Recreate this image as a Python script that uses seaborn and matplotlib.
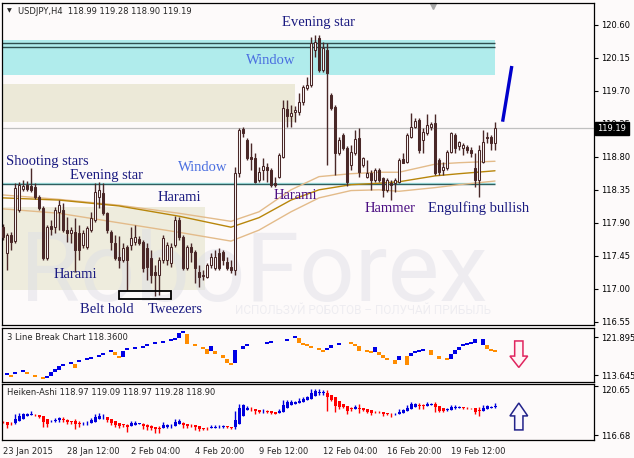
import numpy as np
import seaborn as sns
import matplotlib.pyplot as plt
import matplotlib.transforms as mtransforms
from matplotlib.patches import Rectangle, Polygon

sns.set_style('white')
plt.rcParams['font.family'] = ['DejaVu Sans']

BG = '#fdfafa'
CANDLE = '#4a2828'

# USDJPY H4 candles, bar 0 = 23 Jan 2015 00:00
opens = [117.84, 117.49, 117.73, 117.65, 118.07, 118.36, 118.42, 118.40, 118.39, 118.25,
         118.10, 117.42, 117.86, 117.84, 118.05, 118.07, 117.80, 117.76, 117.77, 117.76,
         117.60, 117.57, 117.80, 117.94, 118.25, 118.31, 118.03, 117.77, 117.62, 117.43,
         117.39, 117.57, 117.60, 117.64, 117.68, 117.64, 117.56, 117.42, 117.23, 117.19,
         117.39, 117.39, 117.35, 117.60, 117.94, 117.71, 117.28, 117.57, 117.50, 117.23,
         117.17, 117.16, 117.32, 117.28, 117.49, 117.50, 117.37, 117.30, 117.26, 118.58,
         119.18, 119.03, 118.80, 118.78, 118.48, 118.62, 118.66, 118.62, 118.44, 118.53,
         118.80, 119.45, 119.36, 119.41, 119.41, 119.55, 119.74, 119.78, 120.26, 120.42,
         119.99, 120.26, 119.64, 119.48, 118.85, 119.10, 118.92, 118.69, 118.85, 119.06,
         118.69, 118.53, 118.58, 118.48, 118.62, 118.51, 118.35, 118.44, 118.44, 118.46,
         118.77, 118.73, 119.07, 119.21, 119.30, 119.03, 119.13, 119.21, 119.26, 118.76,
         118.62, 118.65, 118.87, 119.10, 118.95, 118.92, 118.93, 118.89, 118.65, 118.48,
         118.73, 119.07, 119.07, 118.99]
closes = [117.71, 117.73, 117.64, 118.38, 118.42, 118.40, 118.36, 118.35, 118.25, 118.10,
          117.42, 117.84, 117.82, 118.07, 118.14, 117.80, 117.76, 117.80, 117.53, 117.53,
          117.76, 117.83, 117.97, 118.32, 118.35, 118.03, 117.80, 117.64, 117.42, 117.39,
          117.56, 117.39, 117.69, 117.71, 117.62, 117.28, 117.30, 117.19, 117.19, 117.39,
          117.69, 117.60, 117.57, 117.94, 117.71, 117.28, 117.57, 117.50, 117.28, 117.16,
          117.19, 117.32, 117.43, 117.43, 117.28, 117.39, 117.28, 117.26, 118.58, 119.17,
          119.13, 118.78, 118.77, 118.46, 118.59, 118.68, 118.62, 118.42, 118.42, 118.83,
          119.47, 119.36, 119.40, 119.44, 119.55, 119.75, 119.78, 120.35, 120.37, 119.99,
          120.29, 119.94, 119.47, 118.85, 119.03, 118.92, 118.46, 118.87, 119.04, 118.59,
          118.78, 118.58, 118.48, 118.62, 118.48, 118.35, 118.48, 118.42, 118.48, 118.76,
          118.72, 119.10, 119.21, 119.29, 118.89, 119.14, 119.23, 119.25, 118.58, 118.59,
          118.66, 118.87, 119.13, 118.92, 119.00, 118.96, 118.89, 118.85, 118.48, 118.89,
          119.00, 119.06, 118.99, 119.19]
highs = [117.88, 117.76, 117.77, 118.44, 118.46, 118.48, 118.47, 118.65, 118.44, 118.28,
         118.13, 117.87, 117.94, 118.12, 118.21, 118.17, 117.98, 117.84, 117.97, 117.87,
         117.80, 117.86, 118.05, 118.44, 118.46, 118.44, 118.05, 117.80, 117.73, 117.72,
         117.62, 117.60, 117.84, 117.87, 117.72, 117.67, 117.62, 117.53, 117.32, 117.43,
         117.73, 117.64, 117.62, 117.99, 117.98, 117.73, 117.60, 117.62, 117.53, 117.32,
         117.26, 117.35, 117.49, 117.53, 117.56, 117.53, 117.43, 117.39, 118.66, 119.19,
         119.21, 119.06, 118.99, 118.85, 118.66, 118.78, 118.72, 118.65, 118.53, 118.85,
         119.58, 119.58, 119.51, 119.49, 119.67, 119.78, 119.89, 120.44, 120.46, 120.46,
         120.37, 120.35, 119.67, 119.51, 119.07, 119.13, 118.95, 118.96, 119.17, 119.19,
         118.80, 118.76, 118.62, 118.65, 118.65, 118.53, 118.51, 118.48, 118.51, 118.78,
         118.85, 119.13, 119.40, 119.33, 119.33, 119.19, 119.39, 119.28, 119.39, 118.78,
         118.73, 118.89, 119.14, 119.13, 119.02, 118.99, 118.96, 118.93, 118.85, 118.96,
         119.17, 119.14, 119.10, 119.28]
lows = [117.67, 117.26, 117.53, 117.62, 118.05, 118.33, 118.33, 118.32, 118.22, 118.07,
        117.39, 117.39, 117.73, 117.76, 117.80, 117.77, 117.64, 117.62, 117.23, 117.39,
        117.56, 117.54, 117.77, 117.91, 118.10, 118.01, 117.76, 117.53, 117.39, 117.28,
        117.37, 116.98, 117.53, 117.60, 117.60, 117.23, 117.12, 117.08, 116.90, 116.91,
        117.35, 117.32, 117.30, 117.57, 117.67, 117.26, 117.26, 117.37, 117.08, 117.02,
        117.12, 117.15, 117.28, 117.26, 117.26, 117.32, 117.26, 117.22, 117.19, 118.53,
        119.07, 118.76, 118.62, 118.44, 118.46, 118.48, 118.46, 118.39, 118.39, 118.51,
        118.79, 119.21, 119.21, 119.28, 119.37, 119.51, 119.71, 119.75, 120.16, 119.96,
        119.96, 118.69, 119.44, 118.55, 118.83, 118.89, 118.40, 118.62, 118.83, 118.53,
        118.66, 118.51, 118.35, 118.46, 118.46, 118.25, 118.32, 118.21, 118.32, 118.44,
        118.71, 118.72, 119.06, 119.19, 118.85, 118.85, 119.10, 119.17, 118.55, 118.55,
        118.55, 118.62, 118.85, 118.85, 118.89, 118.83, 118.85, 118.80, 118.39, 118.25,
        118.72, 118.99, 118.89, 118.90]

# moving averages, read at a few bars
ma_bars = [0, 14, 29, 44, 57, 64, 72, 79, 87, 94, 99, 108, 114, 123]
ma_upper = [118.28, 118.22, 118.14, 118.03, 117.92, 118.05, 118.35, 118.53, 118.57, 118.59,
            118.59, 118.70, 118.72, 118.74]
ma_mid = [118.24, 118.21, 118.13, 117.99, 117.84, 117.97, 118.21, 118.35, 118.42, 118.44,
          118.46, 118.54, 118.57, 118.61]
ma_lower = [118.09, 118.03, 117.90, 117.77, 117.65, 117.80, 118.05, 118.24, 118.34, 118.35,
            118.33, 118.38, 118.42, 118.47]

# 3 line break bricks: bar, top, bottom, direction
lb_bar = [1, 2, 3, 5, 6, 8, 10, 11, 12, 13, 14, 15, 17, 18, 19, 21, 22, 24, 25, 27,
          28, 29, 30, 31, 33, 35, 36, 38, 40, 42, 43, 44, 45, 46, 48, 50, 51, 52, 53, 55,
          56, 57, 58, 60, 61, 66, 67, 71, 73, 74, 75, 76, 77, 79, 80, 81, 82, 84, 87, 88,
          89, 91, 92, 93, 94, 95, 96, 98, 99, 101, 102, 103, 104, 105, 107, 109, 111, 112, 113, 114,
          115, 116, 117, 118, 120, 121, 122, 123]
lb_top = [114.08, 113.64, 114.30, 114.73, 114.30, 113.64, 113.21, 113.43, 114.30, 114.95,
          115.60, 116.03, 116.47, 116.03, 116.90, 117.34, 117.55, 117.99, 118.42, 119.07,
          118.64, 117.77, 118.86, 119.51, 119.72, 119.94, 120.38, 120.81, 121.03, 121.46,
          121.68, 122.76, 123.20, 122.55, 120.38, 119.72, 119.29, 119.94, 118.86, 117.99,
          117.12, 116.25, 119.07, 119.94, 120.38, 120.81, 121.03, 121.46, 122.11, 121.68,
          120.59, 120.38, 119.94, 119.51, 119.07, 119.51, 120.16, 120.59, 120.81, 120.38,
          119.94, 119.07, 118.86, 119.72, 118.64, 117.99, 117.34, 116.90, 117.77, 117.77,
          118.42, 118.86, 119.07, 119.29, 119.07, 117.77, 117.34, 118.20, 119.07, 119.72,
          120.38, 120.59, 120.81, 121.46, 121.46, 120.16, 119.29, 119.07]
lb_bottom = [113.64, 113.21, 113.86, 114.30, 113.86, 113.21, 112.78, 113.00, 113.43, 114.30,
             114.73, 115.60, 116.03, 115.17, 116.47, 116.90, 117.12, 117.55, 117.99, 118.64,
             117.99, 117.34, 117.55, 119.07, 119.29, 119.51, 119.94, 120.38, 120.59, 121.03,
             121.24, 121.68, 122.76, 120.38, 119.94, 119.29, 118.20, 118.86, 118.20, 117.34,
             116.25, 115.82, 116.25, 119.29, 119.94, 120.38, 120.59, 121.03, 121.68, 120.59,
             120.16, 119.94, 119.51, 119.07, 118.64, 119.07, 119.51, 120.16, 120.38, 119.94,
             118.86, 118.64, 118.42, 118.64, 117.99, 117.34, 116.90, 116.03, 116.90, 115.82,
             117.77, 118.42, 118.64, 118.86, 117.99, 117.12, 116.90, 117.12, 118.20, 119.07,
             119.94, 120.16, 120.38, 120.59, 120.16, 119.29, 118.86, 118.64]
lb_dir = 'UDUUDDDUUUUUUDUUUUUUDDUUUUUUUUUUUDDDDUDDDDUUUUUUUDDDDDDUUUDDDDDUDDDDUDUUUUDDDUUUUUUUUDDDD'

tick_bars = [0, 16, 32, 48, 64, 80, 96, 112]
tick_labels = ['23 Jan 2015', '28 Jan 12:00', '2 Feb 04:00', '4 Feb 20:00',
               '9 Feb 12:00', '12 Feb 04:00', '16 Feb 20:00', '19 Feb 12:00']
main_ticks = [120.60, 120.15, 119.70, 119.25, 118.80, 118.35, 117.90, 117.45, 117.00, 116.55]

o, c, h, l = (np.array(v) for v in (opens, closes, highs, lows))
n = len(o)
x = np.arange(n)

# Heiken-Ashi from the candles
ha_c = (o + h + l + c) / 4
ha_o = np.empty(n)
ha_o[0] = (o[0] + c[0]) / 2
for i in range(1, n):
    ha_o[i] = (ha_o[i - 1] + ha_c[i - 1]) / 2
ha_h = np.maximum(h, np.maximum(ha_o, ha_c))
ha_l = np.minimum(l, np.minimum(ha_o, ha_c))

fig = plt.figure(figsize=(6.34, 4.58), dpi=100, facecolor=BG)
W, H = 634, 458
def box(x0, y0, x1, y1):
    return [x0 / W, 1 - y1 / H, (x1 - x0) / W, (y1 - y0) / H]

ax = fig.add_axes(box(2, 3, 594, 325))
ax2 = fig.add_axes(box(2, 328, 594, 382))
ax3 = fig.add_axes(box(2, 384, 594, 440))
XL = (-0.25, 147.75)

for a in (ax, ax2, ax3):
    a.set_facecolor(BG)
    a.set_xlim(*XL)
    for s in a.spines.values():
        s.set_color('black')
        s.set_linewidth(0.9)
    a.yaxis.tick_right()
    a.tick_params(axis='y', direction='out', length=3, width=0.8, labelsize=6, pad=2,
                  colors='black')

# ---- main panel
ax.set_ylim(116.505, 120.90)
ax.set_xticks([])
ax.set_yticks(main_ticks)
ax.set_yticklabels([f'{v:.2f}' for v in main_ticks])

ax.add_patch(Rectangle((XL[0], 119.92), 123 - XL[0], 0.48, facecolor='#b0ecec',
                       edgecolor='none', zorder=0.5))
ax.add_patch(Rectangle((XL[0], 119.28), 73 - XL[0], 0.52, facecolor='#ece9d8',
                       edgecolor='none', zorder=0.5))
ax.add_patch(Rectangle((XL[0], 116.98), 50.5 - XL[0], 1.14, facecolor='#eeecdd',
                       edgecolor='none', zorder=0.5))
ax.hlines([120.36, 120.30], XL[0], 123, color='#2f4f4f', lw=1, zorder=1)
ax.hlines(118.445, XL[0], 123, color='#a8e8e8', lw=1, zorder=1)
ax.hlines(118.425, XL[0], 123, color='#2f5f5f', lw=1, zorder=1)
ax.axhline(119.19, color='#c0c0c0', lw=0.9, zorder=1)

ax.text(0.03, 0.075, 'RoboForex', transform=ax.transAxes, family='Roboto', fontsize=70,
        color='#dcdde6', alpha=0.45, zorder=0.6)
ax.text(0.393, 0.035, 'ИСПОЛЬЗУЙ РОБОТОВ – ПОЛУЧАЙ ПРИБЫЛЬ', transform=ax.transAxes,
        family='Roboto', fontsize=8.5, color='#dcdde6', alpha=0.45, zorder=0.6)

for col, vals in (('#e3bb8a', ma_upper), ('#b8860b', ma_mid), ('#e3bb8a', ma_lower)):
    sns.lineplot(x=ma_bars, y=vals, ax=ax, color=col, lw=1, zorder=1.5, legend=False)

up = c >= o
ax.vlines(x, l, h, color=CANDLE, lw=1, zorder=2)
ax.bar(x, np.maximum(np.abs(c - o), 0.004), bottom=np.minimum(o, c), width=0.55,
       color=np.where(up, BG, CANDLE), edgecolor=CANDLE, linewidth=0.75, zorder=3)

ax.plot([124.9, 127.2], [119.28, 120.04], color='#0000cc', lw=2.4,
        solid_capstyle='butt', zorder=4)
ax.add_patch(Rectangle((29, 116.86), 13, 0.11, fill=False, edgecolor='black', lw=1.3,
                       zorder=4))

navy, purple, wblue = '#1a1a80', '#4b0e82', '#4a6ee0'
notes = [('Evening star', 79, 120.64, navy), ('Window', 67, 120.12, wblue),
         ('Shooting stars', 11.1, 118.74, navy), ('Evening star', 26, 118.55, navy),
         ('Window', 50, 118.66, wblue), ('Harami', 44, 118.24, navy),
         ('Harami', 73, 118.27, purple), ('Harami', 18, 117.19, navy),
         ('Belt hold', 26, 116.71, navy), ('Tweezers', 43, 116.71, navy),
         ('Hammer', 96.75, 118.10, purple), ('Engulfing bullish', 119, 118.10, navy)]
for txt, bx, py, col in notes:
    ax.text(bx, py, txt, family='Liberation Serif', fontsize=10.5, color=col,
            ha='center', va='center', zorder=5)

ax.text(0.009, 0.975, '▼', transform=ax.transAxes, fontsize=4.5, va='center')
ax.text(0.027, 0.975, 'USDJPY,H4  118.99 119.28 118.90 119.19', transform=ax.transAxes,
        fontsize=6, va='center')
ax.plot([0.728], [0.992], marker='v', ms=5, color='#a8a8a8', transform=ax.transAxes,
        clip_on=False)
bt = mtransforms.blended_transform_factory(ax.transAxes, ax.transData)
ax.text(1.006, 119.19, '119.19', transform=bt, color='white', fontsize=6, va='center',
        ha='left', zorder=10,
        bbox=dict(facecolor='black', edgecolor='black', boxstyle='square,pad=0.25'))

# ---- 3 line break panel
ax2.set_ylim(112.13, 123.85)
ax2.set_xticks([])
ax2.set_yticks([113.645, 121.895])
ax2.set_yticklabels(['113.645', '121.895'])
lb_col = ['#0000e6' if d == 'U' else '#ff8c00' for d in lb_dir]
ax2.bar(lb_bar, np.array(lb_top) - np.array(lb_bottom), bottom=lb_bottom, width=0.85,
        color=lb_col, linewidth=0)
ax2.text(0.009, 0.83, '3 Line Break Chart 118.3600', transform=ax2.transAxes, fontsize=6,
         va='center')
ax2.add_patch(Polygon([(0.866, 0.76), (0.880, 0.76), (0.880, 0.48), (0.888, 0.48),
                       (0.873, 0.27), (0.858, 0.48), (0.866, 0.48)], closed=True,
                      transform=ax2.transAxes, facecolor='#fff4f6', edgecolor='#e0245e',
                      lw=1.1))

# ---- Heiken-Ashi panel
ax3.set_ylim(116.31, 120.84)
ax3.set_yticks([116.68, 120.65])
ax3.set_yticklabels(['116.68', '120.65'])
ax3.yaxis.get_major_ticks()[1].label2.set_verticalalignment('top')
ha_col = np.where(ha_c >= ha_o, '#0000dd', '#ff0000')
ax3.vlines(x, ha_l, ha_h, colors=ha_col, lw=1)
ax3.bar(x, np.maximum(np.abs(ha_c - ha_o), 0.03), bottom=np.minimum(ha_o, ha_c),
        width=0.75, color=ha_col, linewidth=0)
ax3.text(0.009, 0.84, 'Heiken-Ashi 118.97 119.09 118.97 119.28 118.90',
         transform=ax3.transAxes, fontsize=6, va='center')
ax3.add_patch(Polygon([(0.873, 0.66), (0.888, 0.43), (0.880, 0.43), (0.880, 0.18),
                       (0.866, 0.18), (0.866, 0.43), (0.858, 0.43)], closed=True,
                      transform=ax3.transAxes, facecolor='#fbf7ff', edgecolor='#22228a',
                      lw=1.1))
ax3.set_xticks(tick_bars)
ax3.set_xticklabels(tick_labels)
ax3.tick_params(axis='x', direction='out', length=3, width=0.8, labelsize=6, pad=2)
for lbl in ax3.get_xticklabels():
    lbl.set_horizontalalignment('left')

fig.savefig('out.png', dpi=100, facecolor=BG)
